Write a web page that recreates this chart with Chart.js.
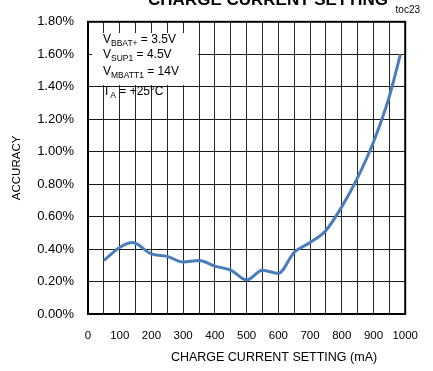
<!DOCTYPE html>
<html>
<head>
<meta charset="utf-8">
<script src="https://cdn.jsdelivr.net/npm/chart.js@4/dist/chart.umd.min.js"></script>
<style>
  html, body { margin: 0; padding: 0; background: #ffffff; }
  #wrap { position: relative; width: 433px; height: 371px; }
</style>
</head>
<body>
<div id="wrap"><canvas id="c" width="433" height="371"></canvas></div>
<script>
// Charge current setting (mA) and measured accuracy (%)
const currentMa = [50, 100, 140, 200, 250, 300, 350, 400, 450, 500, 550, 600, 650, 700, 750, 800, 850, 900, 950, 985];
const accuracyPct = [0.33, 0.41, 0.44, 0.37, 0.355, 0.32, 0.33, 0.295, 0.27, 0.21, 0.27, 0.25, 0.38, 0.44, 0.515, 0.66, 0.84, 1.06, 1.34, 1.60];

// Axis ranges and tick settings
const xRange = [0, 1000];
const xGridStep = 50;
const xLabelStep = 100;
const yRange = [0, 1.8];
const yStep = 0.2;

// Test conditions shown in the inset box: [main, subscript, rest]
const conditionLines = [
  ['V', 'BBAT+', ' = 3.5V'],
  ['V', 'SUP1', ' = 4.5V'],
  ['V', 'MBATT1', ' = 14V'],
  ['T', 'A', ' = +25°C']
];

const chartTitle = 'CHARGE CURRENT SETTING';
const figureTag = 'toc23';
const xTitle = 'CHARGE CURRENT SETTING (mA)';
const yTitle = 'ACCURACY';

const FONT = '"Liberation Sans", Arial, sans-serif';

const decorPlugin = {
  id: 'decor',
  beforeDatasetsDraw(chart) {
    const ctx = chart.ctx;
    // white inset with the test conditions
    ctx.save();
    ctx.fillStyle = '#ffffff';
    ctx.fillRect(92, 33, 106, 52);
    const baselines = [43, 58, 75, 95];
    ctx.fillStyle = '#000000';
    ctx.textBaseline = 'alphabetic';
    ctx.textAlign = 'left';
    conditionLines.forEach((ln, i) => {
      let x = 103;
      const y = baselines[i];
      ctx.font = '12px ' + FONT;
      ctx.fillText(ln[0], x, y);
      x += ctx.measureText(ln[0]).width;
      ctx.font = '8.5px ' + FONT;
      ctx.fillText(ln[1], x, y + 3);
      x += ctx.measureText(ln[1]).width;
      ctx.font = '12px ' + FONT;
      ctx.fillText(ln[2], x, y);
    });
    ctx.restore();
  },
  afterDraw(chart) {
    const ctx = chart.ctx;
    const a = chart.chartArea;
    ctx.save();
    // plot frame
    ctx.strokeStyle = '#000000';
    ctx.lineWidth = 2;
    ctx.strokeRect(a.left, a.top, a.right - a.left, a.bottom - a.top);
    // title (partly above the canvas top)
    ctx.fillStyle = '#000000';
    ctx.textAlign = 'center';
    ctx.textBaseline = 'alphabetic';
    ctx.font = 'bold 17px ' + FONT;
    ctx.fillText(chartTitle, 268, 5);
    // figure tag
    ctx.textAlign = 'right';
    ctx.font = '10px ' + FONT;
    ctx.fillText(figureTag, 420, 13);
    // x-axis title
    ctx.textAlign = 'center';
    ctx.textBaseline = 'middle';
    ctx.font = '12.5px ' + FONT;
    ctx.fillText(xTitle, 274, 357.5);
    ctx.restore();
  }
};

new Chart(document.getElementById('c'), {
  type: 'line',
  data: {
    datasets: [{
      data: currentMa.map((x, i) => ({ x: x, y: accuracyPct[i] })),
      borderColor: '#4a7ebb',
      borderWidth: 3,
      pointRadius: 0,
      cubicInterpolationMode: 'monotone',
      fill: false
    }]
  },
  options: {
    responsive: false,
    animation: false,
    events: [],
    layout: { padding: { top: 20, right: 13, bottom: 0, left: 0 } },
    plugins: { legend: { display: false }, tooltip: { enabled: false }, title: { display: false } },
    scales: {
      x: {
        type: 'linear',
        min: xRange[0],
        max: xRange[1],
        afterFit(scale) { scale.height = 57; },
        grid: { color: '#262626', lineWidth: 1, drawTicks: false },
        border: { display: false },
        ticks: {
          stepSize: xGridStep,
          autoSkip: false,
          maxRotation: 0,
          padding: 15,
          color: '#000000',
          font: { family: FONT, size: 11.5 },
          callback: (v) => (v % xLabelStep === 0 ? String(v) : '')
        },
        title: { display: false }
      },
      y: {
        min: yRange[0],
        max: yRange[1],
        afterFit(scale) { scale.width = 88; },
        grid: { color: '#1a1a1a', lineWidth: 1, drawTicks: false },
        border: { display: false },
        ticks: {
          stepSize: yStep,
          padding: 14,
          color: '#000000',
          font: { family: FONT, size: 13 },
          callback: (v) => v.toFixed(2) + '%'
        },
        title: {
          display: true,
          text: yTitle,
          color: '#000000',
          font: { family: FONT, size: 11.5 },
          padding: { top: 10, bottom: 0 }
        }
      }
    }
  },
  plugins: [decorPlugin]
});
</script>
</body>
</html>
